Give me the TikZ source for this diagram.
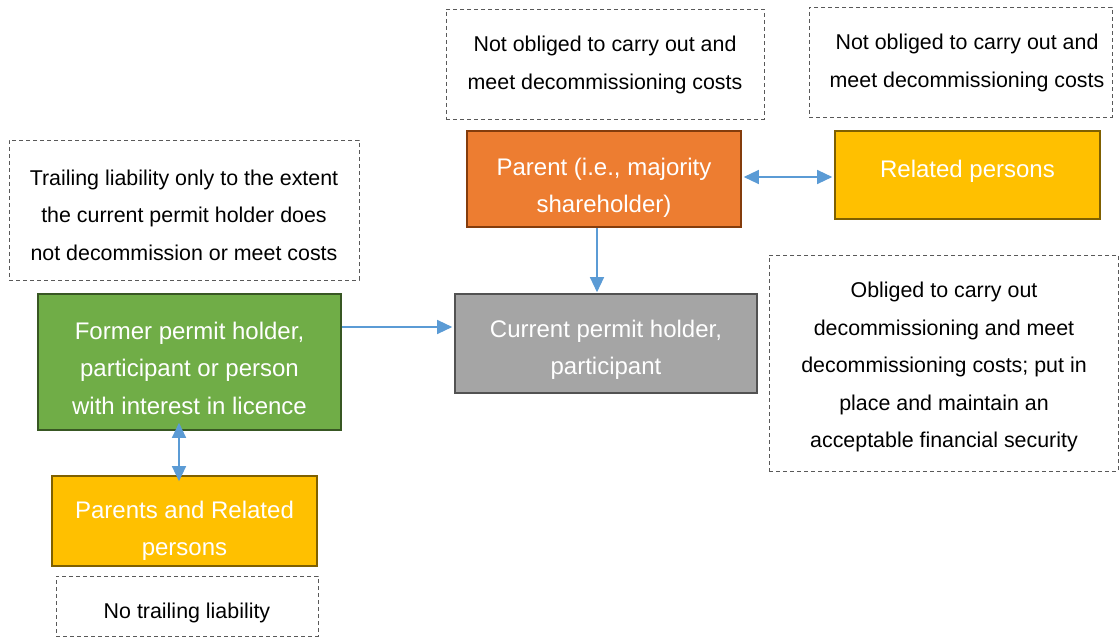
\documentclass[tikz,border=0pt]{standalone}
\usepackage{fontspec}
\setmainfont{Liberation Sans}
\usetikzlibrary{arrows.meta}
\definecolor{linkblue}{HTML}{5B9BD5}
\definecolor{dashgray}{HTML}{595959}
\definecolor{orangefill}{HTML}{ED7D31}
\definecolor{orangeline}{HTML}{843C0C}
\definecolor{goldfill}{HTML}{FFC000}
\definecolor{goldline}{HTML}{7F6000}
\definecolor{greenfill}{HTML}{70AD47}
\definecolor{greenline}{HTML}{385723}
\definecolor{grayfill}{HTML}{A5A5A5}
\definecolor{grayline}{HTML}{525252}
\begin{document}
\begin{tikzpicture}[x=1pt,y=-1pt,
  notebox/.style={draw=dashgray, line width=0.9pt, dash pattern=on 4pt off 3pt,
    inner sep=0pt, rectangle},
  entity/.style={line width=1.6pt, inner sep=0pt, rectangle},
  notetext/.style={align=center, inner sep=0pt, text=black,
    font=\fontsize{21.4}{37.5}\selectfont},
  entitytext/.style={align=center, inner sep=0pt, text=white,
    font=\fontsize{24}{37.5}\selectfont},
  link/.style={draw=linkblue, line width=1.3pt,
    -{Triangle[length=15pt,width=14pt]}},
  twoway/.style={draw=linkblue, line width=1.3pt,
    {Triangle[length=15pt,width=14pt]}-{Triangle[length=15pt,width=14pt]}}]

\useasboundingbox[fill=white] (0,0) rectangle (1119,639);

% dashed note boxes
\node[notebox, minimum width=318pt, minimum height=110pt] (notA) at (605,64) {};
\node[notetext] (notAtext) at (605,65) {Not obliged to carry out and\\meet decommissioning costs};

\node[notebox, minimum width=303pt, minimum height=110pt] (notB) at (960.5,62) {};
\node[notetext] (notBtext) at (967,63) {Not obliged to carry out and\\meet decommissioning costs};

\node[notebox, minimum width=350pt, minimum height=140pt] (trail) at (184,210) {};
\node[notetext] (trailtext) at (184,215) {Trailing liability only to the extent\\the current permit holder does\\not decommission or meet costs};

\node[notebox, minimum width=349pt, minimum height=216pt] (oblig) at (943.5,363) {};
\node[notetext] (obligtext) at (944,367) {Obliged to carry out\\decommissioning and meet\\decommissioning costs; put in\\place and maintain an\\acceptable financial security};

\node[notebox, minimum width=262pt, minimum height=60pt] (notrail) at (187,606) {};
\node[notetext] (notrailtext) at (187,613) {No trailing liability};

% coloured entity boxes
\node[entity, draw=orangeline, fill=orangefill, minimum width=274pt, minimum height=96pt] (parent) at (604,179) {};
\node[entitytext] (parenttext) at (604,188) {Parent (i.e., majority\\shareholder)};

\node[entity, draw=goldline, fill=goldfill, minimum width=265pt, minimum height=88pt] (related) at (967.5,175) {};
\node[entitytext] (relatedtext) at (967.5,171) {Related persons};

\node[entity, draw=greenline, fill=greenfill, minimum width=303pt, minimum height=136pt] (former) at (189.5,362) {};
\node[entitytext] (formertext) at (189.5,368) {Former permit holder,\\participant or person\\with interest in licence};

\node[entity, draw=grayline, fill=grayfill, minimum width=302pt, minimum height=99pt] (current) at (606,343.5) {};
\node[entitytext] (currenttext) at (606,350) {Current permit holder,\\participant};

\node[entity, draw=goldline, fill=goldfill, minimum width=265pt, minimum height=90pt] (parents) at (184.5,521) {};
\node[entitytext] (parentstext) at (184.5,531) {Parents and Related\\persons};

% connectors
\draw[twoway] ([xshift=2pt,yshift=2pt]parent.east) -- ([xshift=-2pt,yshift=-2pt]related.west);
\draw[link] ([xshift=-7pt]parent.south) -- ([xshift=-7pt,yshift=1pt]parent.south |- current.north);
\draw[link] ([yshift=35pt]former.east) -- ([yshift=35pt,xshift=-2pt]former.east -| current.west);
\draw[twoway] ([xshift=-10.5pt,yshift=8pt]former.south) -- ([xshift=-10.5pt,yshift=-6pt]former.south |- parents.north);
\end{tikzpicture}
\end{document}
